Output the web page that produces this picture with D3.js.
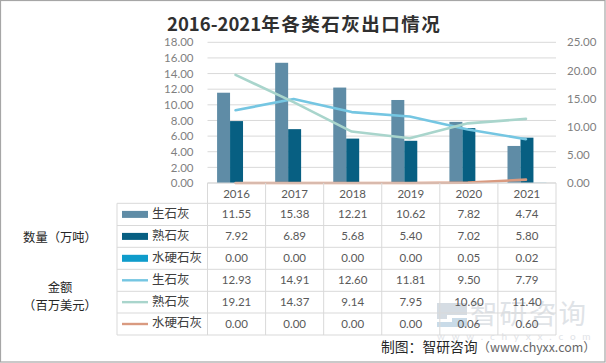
<!DOCTYPE html>
<html>
<head>
<meta charset="utf-8">
<script src="https://cdn.jsdelivr.net/npm/d3@7"></script>
<style>
    html, body { margin: 0; padding: 0; background: #fff; }
    svg { display: block; }
    text { font-family: Lato, "Noto Sans CJK SC", sans-serif; }
    .cjk { font-family: "Noto Sans CJK SC", sans-serif; }
    .axis path, .axis line { display: none; }
    .axis text { font-size: 11.5px; fill: #7f7f7f; }
</style>
</head>
<body>
<div id="chart"></div>
<script>
(function() {
    'use strict';

    const years = ['2016', '2017', '2018', '2019', '2020', '2021'];
    const qtyQuicklime = [11.55, 15.38, 12.21, 10.62, 7.82, 4.74];
    const qtyBurnt = [7.92, 6.89, 5.68, 5.40, 7.02, 5.80];
    const qtyHydrated = [0.00, 0.00, 0.00, 0.00, 0.05, 0.02];
    const amtQuicklime = [12.93, 14.91, 12.60, 11.81, 9.50, 7.79];
    const amtBurnt = [19.21, 14.37, 9.14, 7.95, 10.60, 11.40];
    const amtHydrated = [0.00, 0.00, 0.00, 0.00, 0.06, 0.60];
    const leftTicks = [0, 2, 4, 6, 8, 10, 12, 14, 16, 18];
    const rightTicks = [0, 5, 10, 15, 20, 25];

    const barSeries = [
        { name: '生石灰', values: qtyQuicklime, color: '#5f8ca6' },
        { name: '熟石灰', values: qtyBurnt, color: '#075f82' },
        { name: '水硬石灰', values: qtyHydrated, color: '#0f9ccb' }
    ];
    const lineSeries = [
        { name: '生石灰', values: amtQuicklime, color: '#75c6e2' },
        { name: '熟石灰', values: amtBurnt, color: '#a9d5cc' },
        { name: '水硬石灰', values: amtHydrated, color: '#d99a80' }
    ];
    const tableRows = [...barSeries, ...lineSeries];

    const width = 606;
    const height = 363;
    const plot = { left: 207.5, right: 556, top: 42.3, bottom: 183 };
    const rowTops = [203.3, 225.5, 247.3, 269.3, 291.3, 313, 335];
    const tableLeft = 117;

    const svg = d3.select('#chart').append('svg')
        .attr('width', width)
        .attr('height', height)
        .attr('viewBox', [0, 0, width, height]);

    // Image frame
    svg.append('rect')
        .attr('x', 0.5).attr('y', 0.5)
        .attr('width', width - 1.5).attr('height', height - 1.5)
        .attr('fill', '#fff')
        .attr('stroke', '#a6a6a6')
        .attr('stroke-width', 1.2);

    // Scales
    const x = d3.scaleBand().domain(years).range([plot.left, plot.right]);
    const xBar = d3.scaleBand().domain(barSeries.map(d => d.name))
        .range([x.bandwidth() * 0.165, x.bandwidth() * 0.835]);
    const yLeft = d3.scaleLinear().domain([0, 18]).range([plot.bottom, plot.top]);
    const yRight = d3.scaleLinear().domain([0, 25]).range([plot.bottom, plot.top]);

    // Gridlines
    svg.append('g').selectAll('line')
        .data(leftTicks)
        .join('line')
        .attr('x1', plot.left).attr('x2', plot.right)
        .attr('y1', d => yLeft(d)).attr('y2', d => yLeft(d))
        .attr('stroke', '#d9d9d9')
        .attr('stroke-width', 1);

    // Axes
    svg.append('g')
        .attr('class', 'axis')
        .attr('transform', `translate(${plot.left},0)`)
        .call(d3.axisLeft(yLeft).tickValues(leftTicks).tickFormat(d3.format('.2f')).tickSize(0).tickPadding(14));
    svg.append('g')
        .attr('class', 'axis')
        .attr('transform', `translate(${plot.right},0)`)
        .call(d3.axisRight(yRight).tickValues(rightTicks).tickFormat(d3.format('.2f')).tickSize(0).tickPadding(11));

    // Watermark sits under the table text
    const mark = svg.append('g');
    mark.append('path')
        .attr('d', 'M437,303H467V315H447V319H437Z')
        .attr('fill', '#d5dce3');
    mark.append('path')
        .attr('d', 'M437,322H452V318H467V327H437Z')
        .attr('fill', '#c9dbe8');
    mark.append('text')
        .attr('class', 'cjk')
        .attr('x', 470).attr('y', 324)
        .attr('font-size', 27.5)
        .attr('letter-spacing', 2)
        .attr('fill', '#dfe3e7')
        .text('智研咨询');
    mark.append('text')
        .attr('x', 437).attr('y', 340)
        .attr('font-size', 10)
        .attr('letter-spacing', 6.8)
        .attr('fill', '#dfe3e7')
        .text('www.chyxx.com');

    // Bars
    barSeries.forEach(s => {
        svg.append('g').selectAll('rect')
            .data(s.values.map((v, i) => ({ year: years[i], v })))
            .join('rect')
            .attr('x', d => x(d.year) + xBar(s.name))
            .attr('y', d => yLeft(d.v))
            .attr('width', xBar.bandwidth())
            .attr('height', d => plot.bottom - yLeft(d.v))
            .attr('fill', s.color);
    });

    // Lines
    const line = d3.line()
        .x((d, i) => x(years[i]) + x.bandwidth() / 2 - 1)
        .y(d => yRight(d));
    svg.append('g').selectAll('path')
        .data(lineSeries)
        .join('path')
        .attr('d', d => line(d.values))
        .attr('fill', 'none')
        .attr('stroke', d => d.color)
        .attr('stroke-width', 2.6)
        .attr('stroke-linecap', 'round')
        .attr('stroke-linejoin', 'round');

    // Data table
    const grid = svg.append('g').attr('stroke', '#d9d9d9').attr('stroke-width', 1);
    const tableBottom = rowTops[rowTops.length - 1];
    grid.selectAll('.hrow')
        .data(rowTops)
        .join('line')
        .attr('class', 'hrow')
        .attr('x1', tableLeft).attr('x2', plot.right)
        .attr('y1', d => d).attr('y2', d => d);
    grid.append('line')
        .attr('x1', plot.left).attr('x2', plot.right)
        .attr('y1', plot.bottom).attr('y2', plot.bottom);
    grid.selectAll('.vcol')
        .data(years)
        .join('line')
        .attr('class', 'vcol')
        .attr('x1', d => x(d)).attr('x2', d => x(d))
        .attr('y1', plot.bottom).attr('y2', tableBottom);
    grid.append('line')
        .attr('x1', plot.right).attr('x2', plot.right)
        .attr('y1', plot.bottom).attr('y2', tableBottom);
    grid.append('line')
        .attr('x1', tableLeft).attr('x2', tableLeft)
        .attr('y1', rowTops[0]).attr('y2', tableBottom);

    svg.append('g').selectAll('text')
        .data(years)
        .join('text')
        .attr('x', d => x(d) + x.bandwidth() / 2)
        .attr('y', 194)
        .attr('dy', '0.35em')
        .attr('text-anchor', 'middle')
        .attr('font-size', 11.5)
        .attr('fill', '#595959')
        .text(d => d);

    const rowMid = i => (rowTops[i] + rowTops[i + 1]) / 2;
    tableRows.forEach((row, i) => {
        const g = svg.append('g');
        // Legend key: thick for bars, thin for lines
        g.append('rect')
            .attr('x', 122)
            .attr('y', rowMid(i) - (i < 3 ? 3.5 : 1.2))
            .attr('width', 26)
            .attr('height', i < 3 ? 7 : 2.4)
            .attr('fill', row.color);
        g.append('text')
            .attr('class', 'cjk')
            .attr('x', 152)
            .attr('y', rowMid(i) - 1)
            .attr('dy', '0.35em')
            .attr('font-size', 12.5)
            .attr('fill', '#404040')
            .text(row.name);
        g.selectAll('.val')
            .data(row.values)
            .join('text')
            .attr('class', 'val')
            .attr('x', (d, k) => x(years[k]) + x.bandwidth() / 2)
            .attr('y', rowMid(i))
            .attr('dy', '0.35em')
            .attr('text-anchor', 'middle')
            .attr('font-size', 11.5)
            .attr('fill', '#595959')
            .text(d => d.toFixed(2));
    });

    // Group labels left of the table
    const groupLabels = [
        { text: '数量（万吨）', cx: 60, cy: 238 },
        { text: '金额', cx: 60, cy: 288 },
        { text: '（百万美元）', cx: 60, cy: 306 }
    ];
    svg.append('g').selectAll('text')
        .data(groupLabels)
        .join('text')
        .attr('class', 'cjk')
        .attr('x', d => d.cx)
        .attr('y', d => d.cy)
        .attr('dy', '0.35em')
        .attr('text-anchor', 'middle')
        .attr('font-size', 12.3)
        .attr('fill', '#262626')
        .text(d => d.text);

    // Title
    const title = svg.append('text')
        .attr('class', 'cjk')
        .attr('x', 167).attr('y', 31)
        .attr('font-weight', 700)
        .attr('fill', '#303030');
    title.append('tspan')
        .attr('font-size', 18.5)
        .text('2016-2021');
    title.append('tspan')
        .attr('font-size', 18.5)
        .attr('letter-spacing', 1.5)
        .text('年各类石灰出口情况');

    // Source note
    const note = svg.append('text')
        .attr('class', 'cjk')
        .attr('x', 381).attr('y', 352)
        .attr('fill', '#262626');
    note.append('tspan')
        .attr('font-size', 13.8)
        .text('制图：智研咨询');
    note.append('tspan')
        .attr('font-size', 12.4)
        .attr('fill', '#666')
        .text('（www.chyxx.com）');
})();
</script>
</body>
</html>
